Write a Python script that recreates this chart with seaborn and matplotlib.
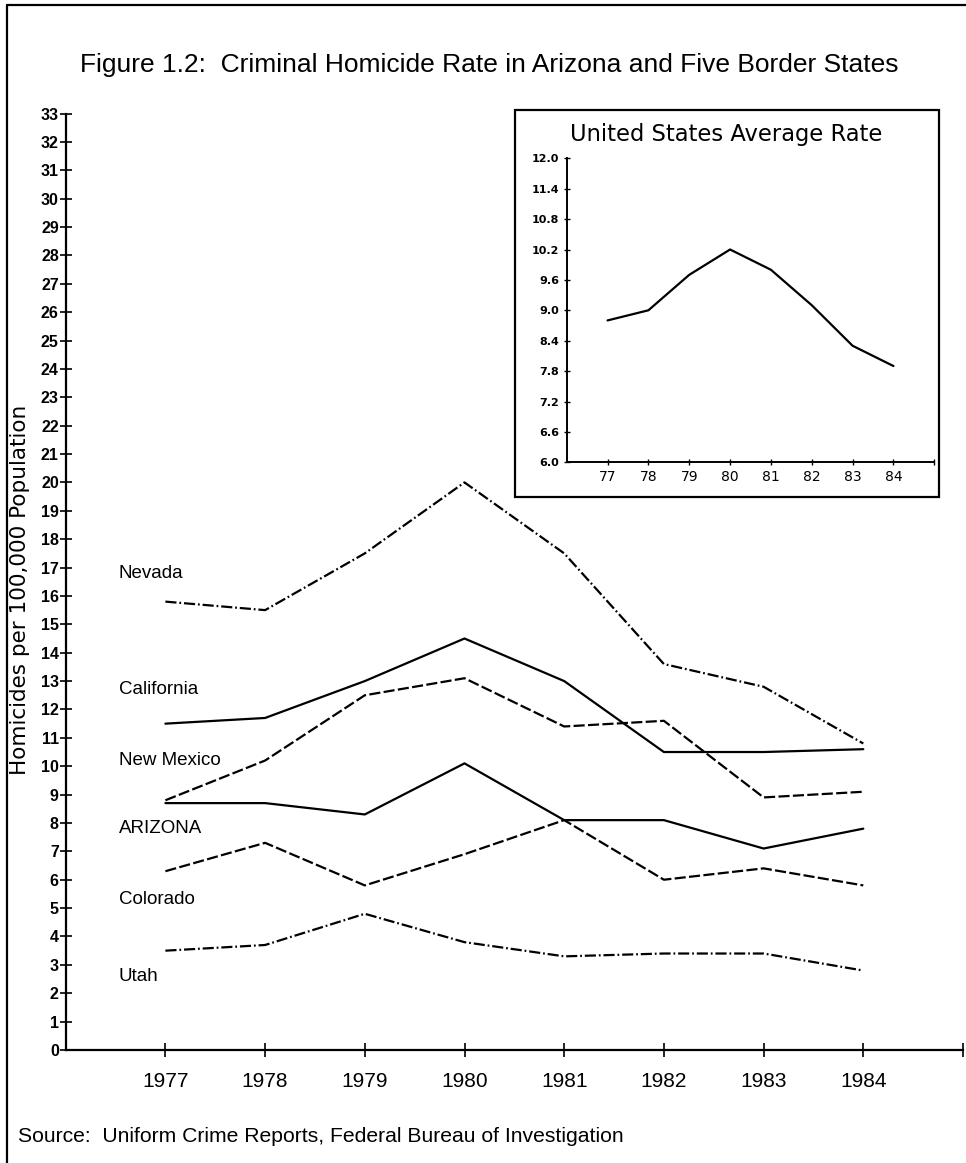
import numpy as np
import pandas as pd
import matplotlib
matplotlib.use("Agg")
import matplotlib.pyplot as plt
import seaborn as sns
from matplotlib.lines import Line2D
from matplotlib.patches import Rectangle

# Datos
years = [1977, 1978, 1979, 1980, 1981, 1982, 1983, 1984]
nevada = [15.8, 15.5, 17.5, 20.0, 17.5, 13.6, 12.8, 10.8]
california = [11.5, 11.7, 13.0, 14.5, 13.0, 10.5, 10.5, 10.6]
new_mexico = [8.8, 10.2, 12.5, 13.1, 11.4, 11.6, 8.9, 9.1]
arizona = [8.7, 8.7, 8.3, 10.1, 8.1, 8.1, 7.1, 7.8]
colorado = [6.3, 7.3, 5.8, 6.9, 8.1, 6.0, 6.4, 5.8]
utah = [3.5, 3.7, 4.8, 3.8, 3.3, 3.4, 3.4, 2.8]

us_years = [77, 78, 79, 80, 81, 82, 83, 84]
us_avg = [8.8, 9.0, 9.7, 10.2, 9.8, 9.1, 8.3, 7.9]

state_names = ["Nevada", "California", "New Mexico", "ARIZONA", "Colorado", "Utah"]
label_y = [16.8, 12.7, 10.2, 7.8, 5.3, 2.6]

series = [nevada, california, new_mexico, arizona, colorado, utah]
df = pd.DataFrame({
    "year": years * len(state_names),
    "rate": sum(series, []),
    "state": np.repeat(state_names, len(years)),
})
us_df = pd.DataFrame({"year": us_years, "rate": us_avg})

sns.set_style("ticks")
narrow = ["Liberation Sans Narrow", "Liberation Sans", "DejaVu Sans"]
plt.rcParams["font.family"] = narrow
# todo en negro, como el original impreso
for k in ["text.color", "axes.labelcolor", "xtick.color", "ytick.color", "axes.edgecolor"]:
    plt.rcParams[k] = "black"

W, H = 966, 1163
fig = plt.figure(figsize=(W / 100, H / 100), dpi=100)

def fx(px):
    return px / W

def fy(py):
    return 1 - py / H

def fit_width(txt, target_px):
    # ajusta el tamano de letra para que el texto ocupe el ancho deseado
    r = fig.canvas.get_renderer()
    w = txt.get_window_extent(renderer=r).width
    txt.set_fontsize(txt.get_fontsize() * target_px / w)

# Eje principal
ax = fig.add_axes([fx(65.7), fy(1050), fx(963) - fx(65.7), fy(113.5) - fy(1050)])

dash_styles = {
    "Nevada": (5, 1.3, 0.8, 1.3),
    "California": "",
    "New Mexico": (5, 1.5),
    "ARIZONA": "",
    "Colorado": (5, 1.5),
    "Utah": (5, 1.3, 0.8, 1.3),
}
sns.lineplot(data=df, x="year", y="rate", style="state", dashes=dash_styles,
             color="black", linewidth=1.6, legend=False, ax=ax)

ax.set_xlim(1976, 1985)
ax.set_ylim(0, 33)
ax.set_xticks(years + [1985])
ax.set_xticklabels([str(y) for y in years] + [""], fontsize=15)
ax.set_yticks(range(0, 34))
ax.set_yticklabels([str(v) for v in range(0, 34)], fontsize=11.5, fontweight="bold")
ax.tick_params(axis="y", direction="inout", length=8, width=1.2, pad=1)
ax.tick_params(axis="x", direction="inout", length=10, width=1.2, pad=11)
sns.despine(ax=ax)
for s in ["left", "bottom"]:
    ax.spines[s].set_linewidth(1.6)
ax.set_xlabel("")
ax.set_ylabel("Homicides per 100,000 Population", fontsize=15.5,
              family="DejaVu Sans")
ax.yaxis.set_label_coords(-0.040, 16.2 / 33)

for name, ly in zip(state_names, label_y):
    ax.text(1976.53, ly, name, fontsize=13.5, family="Liberation Sans",
            ha="left", va="center")

# Recuadro con el promedio de EE.UU.
fig.add_artist(Rectangle((fx(515), fy(497)), fx(939) - fx(515), fy(110) - fy(497),
                         fill=False, edgecolor="black", linewidth=1.6,
                         transform=fig.transFigure))
ins = fig.add_axes([fx(566.7), fy(462.3), fx(934.3) - fx(566.7), fy(158.3) - fy(462.3)])
sns.lineplot(data=us_df, x="year", y="rate", color="black", linewidth=1.6, ax=ins)
ins.set_xlim(76, 85)
ins.set_ylim(6.0, 12.0)
ins.set_xticks(us_years + [85])
ins.set_xticklabels([str(y) for y in us_years] + [""], fontsize=10, family="DejaVu Sans")
yt = [6.0 + 0.6 * i for i in range(11)]
ins.set_yticks(yt)
ins.set_yticklabels([f"{v:.1f}" for v in yt], fontsize=8, family="DejaVu Sans",
                    fontweight="bold")
ins.tick_params(direction="inout", length=5, width=1, pad=3)
sns.despine(ax=ins)
for s in ["left", "bottom"]:
    ins.spines[s].set_linewidth(1.4)
ins.set_xlabel("")
ins.set_ylabel("")
ins_title = fig.text(fx(570), fy(134), "United States Average Rate", fontsize=15,
                     family="DejaVu Sans", ha="left", va="center")
fit_width(ins_title, 313)

# Titulo, fuente y borde
title = fig.text(fx(80), fy(65), "Figure 1.2:  Criminal Homicide Rate in Arizona and Five Border States",
                 fontsize=19, ha="left", va="center")
fit_width(title, 820)
source = fig.text(fx(18), fy(1136), "Source:  Uniform Crime Reports, Federal Bureau of Investigation",
                  fontsize=15, ha="left", va="center")
fit_width(source, 608)
fig.add_artist(Line2D([fx(7), fx(7)], [0, fy(5)], color="black", linewidth=1.6))
fig.add_artist(Line2D([fx(7), 1], [fy(5), fy(5)], color="black", linewidth=1.6))

fig.savefig("out.png", dpi=100)
